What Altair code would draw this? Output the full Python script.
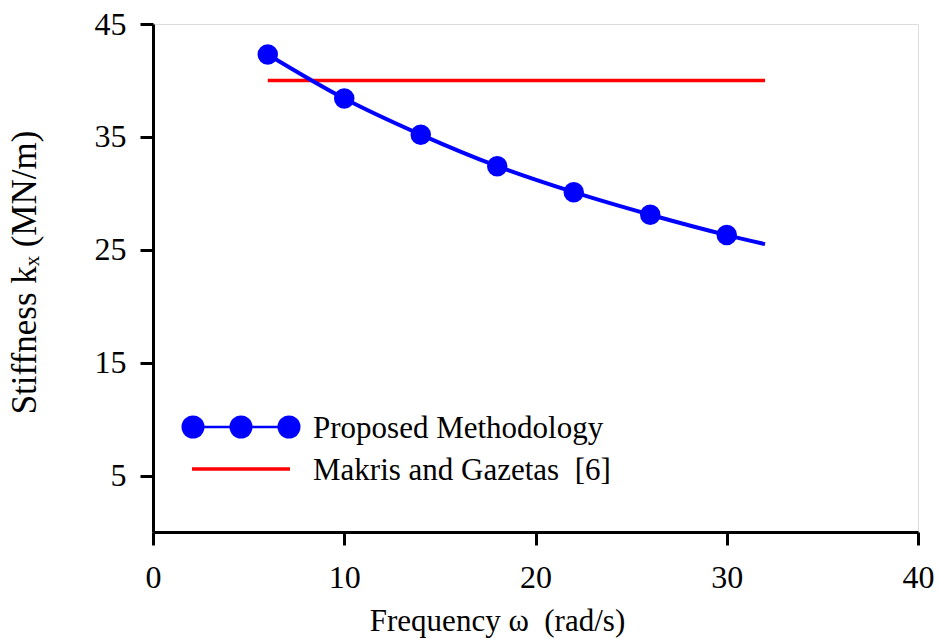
import altair as alt
import pandas as pd

# ---- data ----
freq = [6, 10, 14, 18, 22, 26, 30]
stiff = [42.3, 38.4, 35.2, 32.4, 30.1, 28.1, 26.3]
curve_end_freq = [32]
curve_end_stiff = [25.5]
makris_freq = [6, 32]
makris_stiff = [40.0, 40.0]

x_ticks = [0, 10, 20, 30, 40]
y_ticks = [5, 15, 25, 35, 45]

NBSP = "\u00a0"
series_names = ["Proposed Methodology", "Makris and Gazetas" + NBSP + NBSP + "[6]"]
BLUE = "#0000ff"
RED = "#ff0000"
FONT = "Liberation Serif"

prop_df = pd.DataFrame({"w": freq, "k": stiff})
curve_df = pd.DataFrame({"w": freq + curve_end_freq, "k": stiff + curve_end_stiff})
makris_df = pd.DataFrame({"w": makris_freq, "k": makris_stiff})
dummy = pd.DataFrame({"d": [0]})

x_enc = alt.X(
    "w:Q",
    scale=alt.Scale(domain=[0, 40], nice=False, zero=False),
    axis=alt.Axis(
        values=x_ticks,
        title="Frequency ω" + NBSP + NBSP + "(rad/s)",
        titleX=344,
        titleY=98,
        titleAlign="center",
        titleBaseline="alphabetic",
        titleFont=FONT,
        titleFontSize=31,
        titleFontWeight="normal",
        titleColor="black",
        labelFont=FONT,
        labelFontSize=32,
        labelColor="black",
        labelPadding=17,
        grid=False,
        domainColor="black",
        domainWidth=3,
        tickColor="black",
        tickWidth=3,
        tickSize=13,
        labelFlush=False,
    ),
)
y_enc = alt.Y(
    "k:Q",
    scale=alt.Scale(domain=[0, 45], nice=False, zero=True),
    axis=alt.Axis(
        values=y_ticks,
        title="Stiffness kₓ" + NBSP + "(MN/m)",
        titleX=-118,
        titleY=248,
        titleAngle=270,
        titleAlign="center",
        titleBaseline="alphabetic",
        titleFont=FONT,
        titleFontSize=35,
        titleFontWeight="normal",
        titleColor="black",
        labelFont=FONT,
        labelFontSize=32,
        labelColor="black",
        labelPadding=14,
        grid=False,
        domainColor="black",
        domainWidth=3,
        tickColor="black",
        tickWidth=3,
        tickSize=13,
        labelFlush=False,
    ),
)

makris_line = alt.Chart(makris_df).mark_line(color=RED, strokeWidth=3.5).encode(x=x_enc, y=y_enc)
prop_line = alt.Chart(curve_df).mark_line(color=BLUE, strokeWidth=4, interpolate="monotone").encode(x=x_enc, y=y_enc)
prop_pts = alt.Chart(prop_df).mark_point(filled=True, shape="circle", size=420, color=BLUE, opacity=1).encode(x=x_enc, y=y_enc)

# ---- legend (drawn inside the plot area, lower left) ----
leg_line1 = alt.Chart(dummy).mark_rule(color=BLUE, strokeWidth=2.5).encode(
    x=alt.value(40), x2=alt.value(136), y=alt.value(403))
leg_pts = [
    alt.Chart(dummy).mark_point(filled=True, shape="circle", size=529, color=BLUE, opacity=1).encode(
        x=alt.value(px), y=alt.value(403))
    for px in (40, 88, 136)
]
leg_line2 = alt.Chart(dummy).mark_rule(color=RED, strokeWidth=3.5).encode(
    x=alt.value(39), x2=alt.value(137), y=alt.value(445))
leg_txt1 = alt.Chart(dummy).mark_text(align="left", baseline="alphabetic", font=FONT, fontSize=31, color="black").encode(
    x=alt.value(160), y=alt.value(414), text=alt.value(series_names[0]))
leg_txt2 = alt.Chart(dummy).mark_text(align="left", baseline="alphabetic", font=FONT, fontSize=31, color="black").encode(
    x=alt.value(160), y=alt.value(456), text=alt.value(series_names[1]))

chart = alt.layer(
    makris_line, prop_line, prop_pts,
    leg_line1, *leg_pts, leg_line2, leg_txt1, leg_txt2,
).properties(
    width=765,
    height=508,
    autosize=alt.AutoSizeParams(type="none"),
    padding={"left": 153, "top": 24, "right": 21, "bottom": 112},
).configure_view(stroke=None).configure(background="white")

chart.save("out.html", embed_options={"renderer": "svg", "actions": False})
